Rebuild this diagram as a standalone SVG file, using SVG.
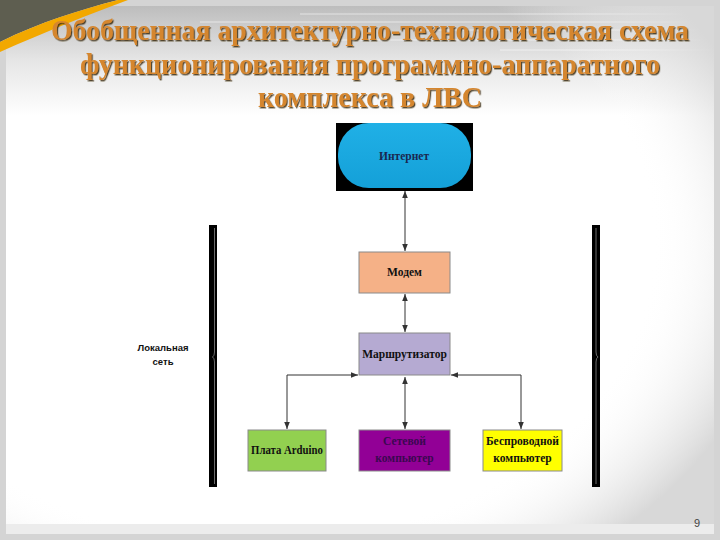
<svg xmlns="http://www.w3.org/2000/svg" width="720" height="540" viewBox="0 0 720 540">
  <defs>
    <linearGradient id="topband" x1="0" y1="0" x2="0" y2="1">
      <stop offset="0" stop-color="#bdbdbd"/>
      <stop offset="0.5" stop-color="#e6e6e6"/>
      <stop offset="1" stop-color="#ffffff"/>
    </linearGradient>
    <radialGradient id="corner" cx="0.35" cy="0.45" r="0.75">
      <stop offset="0.75" stop-color="#ffffff" stop-opacity="0"/>
      <stop offset="1" stop-color="#d8d8d8" stop-opacity="1"/>
    </radialGradient>
    <linearGradient id="pill" x1="0" y1="0" x2="0" y2="1">
      <stop offset="0" stop-color="#20b0e6"/>
      <stop offset="1" stop-color="#14a0d8"/>
    </linearGradient>
    <marker id="arr" viewBox="0 0 10 10" refX="10" refY="5" markerWidth="7" markerHeight="7" orient="auto-start-reverse" markerUnits="userSpaceOnUse">
      <path d="M0,1 L10,5 L0,9 z" fill="#333"/>
    </marker>
    <filter id="sh" x="-5%" y="-5%" width="110%" height="120%">
      <feDropShadow dx="1.2" dy="1.4" stdDeviation="0.7" flood-color="#3a2a10" flood-opacity="0.85"/>
    </filter>
  </defs>
  <style>
    .title { font-family: "Liberation Serif", "DejaVu Serif", serif; font-weight: bold; font-size: 29px; fill: #d5862e; text-anchor: middle; }
    .lbl { font-family: "Liberation Serif", "DejaVu Serif", serif; font-weight: bold; font-size: 11.5px; text-anchor: middle; fill: #111; }
    .box { stroke: #8a8a8a; stroke-width: 1; }
    .conn { fill: none; stroke: #333; stroke-width: 1; }
  </style>

  <!-- background -->
  <rect x="0" y="0" width="720" height="540" fill="#d4d4d4"/>
  <rect x="6" y="6" width="708" height="528" fill="#ffffff"/>
  <rect x="6" y="6" width="708" height="110" fill="url(#topband)"/>
  <g stroke="#ffffff" stroke-opacity="0.55" stroke-width="1">
    <line x1="300" y1="14" x2="714" y2="14"/>
    <line x1="200" y1="22" x2="714" y2="22"/>
    <line x1="420" y1="30" x2="714" y2="30"/>
    <line x1="250" y1="40" x2="700" y2="40"/>
    <line x1="500" y1="50" x2="714" y2="50"/>
  </g>
  <rect x="6" y="6" width="708" height="528" fill="url(#corner)"/>
  <rect x="6" y="524" width="708" height="10" fill="#ececec"/>
  <!-- top-left swoosh -->
  <path d="M0,0 L118,0 C80,10 40,22 0,42 Z" fill="#5e5e50"/>
  <path d="M0,42 C40,22 80,10 118,0 L128,0 C90,14 45,32 0,52 Z" fill="#f2a800"/>

  <!-- title -->
  <g filter="url(#sh)">
    <text class="title" x="370" y="40" textLength="638" lengthAdjust="spacingAndGlyphs">Обобщенная архитектурно-технологическая схема</text>
    <text class="title" x="370" y="74" textLength="580" lengthAdjust="spacingAndGlyphs">функционирования программно-аппаратного</text>
    <text class="title" x="370" y="107" textLength="224" lengthAdjust="spacingAndGlyphs">комплекса в ЛВС</text>
  </g>

  <!-- brackets -->
  <g id="bracket-left">
    <rect x="209" y="225" width="8" height="262" fill="#000"/>
    <path d="M214.5,228 L214.5,352 Q214.5,356 212.5,357 Q214.5,358 214.5,362 L214.5,484" fill="none" stroke="#888" stroke-width="0.8"/>
  </g>
  <g id="bracket-right">
    <rect x="592" y="225" width="8" height="262" fill="#000"/>
    <path d="M596,228 L596,352 Q596,356 598,357 Q596,358 596,362 L596,484" fill="none" stroke="#888" stroke-width="0.8"/>
  </g>
  <g id="lan-label" font-family="Liberation Sans, Arial, sans-serif" font-weight="bold" font-size="9.5" text-anchor="middle" fill="#111">
    <text x="163" y="351">Локальная</text>
    <text x="163" y="365">сеть</text>
  </g>

  <!-- connectors -->
  <g id="connectors">
    <line class="conn" x1="405" y1="191" x2="405" y2="251" marker-start="url(#arr)" marker-end="url(#arr)"/>
    <line class="conn" x1="405" y1="294" x2="405" y2="332" marker-start="url(#arr)" marker-end="url(#arr)"/>
    <line class="conn" x1="405" y1="377" x2="405" y2="429" marker-start="url(#arr)" marker-end="url(#arr)"/>
    <polyline class="conn" points="358,375 287,375 287,429" marker-start="url(#arr)" marker-end="url(#arr)"/>
    <polyline class="conn" points="451,375 521,375 521,429" marker-start="url(#arr)" marker-end="url(#arr)"/>
  </g>

  <!-- nodes -->
  <g id="internet">
    <rect x="336" y="123" width="137" height="68" fill="#000"/>
    <rect x="338" y="123" width="133" height="65" rx="31" ry="31" fill="url(#pill)"/>
    <text class="lbl" x="404" y="160" style="fill:#1a2850">Интернет</text>
  </g>
  <g id="modem">
    <rect class="box" x="359" y="252" width="91" height="41" fill="#f5b187"/>
    <text class="lbl" x="404.5" y="276">Модем</text>
  </g>
  <g id="router">
    <rect class="box" x="359" y="333" width="91" height="42" fill="#b5aad2"/>
    <text class="lbl" x="404.5" y="358">Маршрутизатор</text>
  </g>
  <g id="arduino">
    <rect class="box" x="248" y="430" width="78" height="41" fill="#92d050"/>
    <text class="lbl" x="287" y="454" textLength="72" lengthAdjust="spacingAndGlyphs">Плата Arduino</text>
  </g>
  <g id="netpc">
    <rect class="box" x="359" y="430" width="91" height="41" fill="#920096"/>
    <text class="lbl" x="404.5" y="445" style="fill:#3a0850">Сетевой</text>
    <text class="lbl" x="404.5" y="462" style="fill:#3a0850">компьютер</text>
  </g>
  <g id="wireless">
    <rect class="box" x="483" y="430" width="79" height="41" fill="#ffff00"/>
    <text class="lbl" x="522.5" y="445" textLength="73" lengthAdjust="spacingAndGlyphs">Беспроводной</text>
    <text class="lbl" x="522.5" y="462">компьютер</text>
  </g>

  <text x="697" y="527" font-family="Liberation Sans, Arial, sans-serif" font-size="11" fill="#444" text-anchor="middle">9</text>
</svg>
